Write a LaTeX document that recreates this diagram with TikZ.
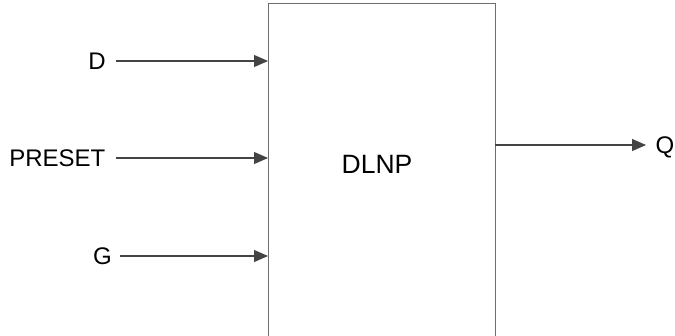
\documentclass[tikz,border=0pt]{standalone}
\usepackage{fontspec}
\setmainfont{Liberation Sans}
\usetikzlibrary{arrows.meta}
\definecolor{boxline}{RGB}{110,110,110}
\definecolor{wire}{RGB}{68,68,68}
\tikzset{
  lbl/.style={inner sep=0pt, font=\fontsize{24}{28}\selectfont, text height=17.2pt, text depth=0pt},
  title/.style={inner sep=0pt, font=\fontsize{26.5}{30}\selectfont},
  wirearrow/.style={draw=wire, line width=1.1pt, -{Triangle[length=14pt,width=12pt]}},
}
\begin{document}
\begin{tikzpicture}[x=1pt,y=-1pt]
\useasboundingbox (0,0) rectangle (675,335);
\fill[white] (0,0) rectangle (675,335);
\begin{scope}
\clip (0,0) rectangle (675,335);
\draw[boxline, line width=1pt] (268,3) rectangle (495,350);
\end{scope}
\node[title] (dlnp) at (377,164) {DLNP};
% labels
\node[lbl, anchor=east] (d) at (106,61) {D};
\node[lbl, anchor=east] (preset) at (105.5,158) {PRESET};
\node[lbl, anchor=east] (g) at (112,256) {G};
\node[lbl, anchor=west] (q) at (655.5,145) {Q};
% endpoints
\coordinate (din) at (268,61);
\coordinate (pin) at (268,158);
\coordinate (gin) at (268,256);
\coordinate (qout) at (495,145);
\coordinate (qend) at (646,145);
\draw[wirearrow] ([xshift=10pt]d.east) -- (din);
\draw[wirearrow] ([xshift=10.5pt]preset.east) -- (pin);
\draw[wirearrow] ([xshift=8pt]g.east) -- (gin);
\draw[wirearrow] (qout) -- (qend);
\end{tikzpicture}
\end{document}
